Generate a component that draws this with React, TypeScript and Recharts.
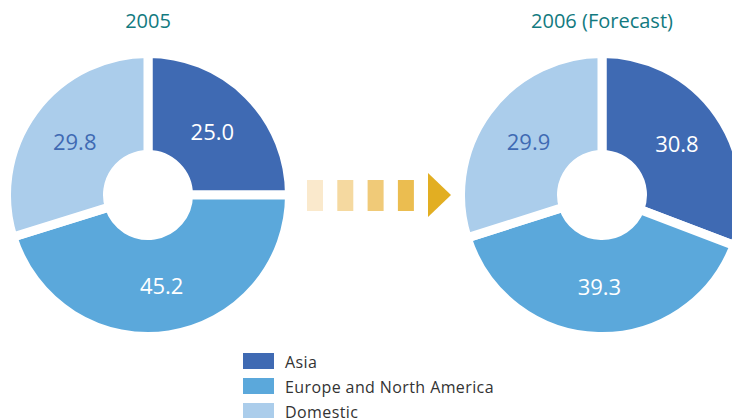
import React from 'react';
import { PieChart, Pie, Cell } from 'recharts';

const categories = ['Asia', 'Europe and North America', 'Domestic'];
const values2005 = [25.0, 45.2, 29.8];
const values2006 = [30.8, 39.3, 29.9];
const titles = ['2005', '2006 (Forecast)'];

const COLORS = ['#3F6AB3', '#5BA8DB', '#ABCDEB'];
const LABEL_COLORS = ['#FFFFFF', '#FFFFFF', '#3F6AB3'];
const ARROW_COLORS = ['#FAE9CC', '#F5D9A0', '#F0CA78', '#EBBD50'];
const FONT = '"Open Sans", sans-serif';

const toRows = (values: number[]) =>
  categories.map((name, i) => ({ name, value: values[i] }));

const renderLabel = ({ cx, cy, midAngle, innerRadius, outerRadius, index, value }: any) => {
  const RADIAN = Math.PI / 180;
  const r = (innerRadius + outerRadius) / 2;
  const x = cx + r * Math.cos(-midAngle * RADIAN);
  const y = cy + r * Math.sin(-midAngle * RADIAN);
  return (
    <text
      x={x}
      y={y}
      fill={LABEL_COLORS[index]}
      textAnchor="middle"
      dominantBaseline="central"
      fontSize={22}
      fontFamily={FONT}
    >
      {value.toFixed(1)}
    </text>
  );
};

export default function App() {
  const pies = [
    { data: toRows(values2005), cx: 148 },
    { data: toRows(values2006), cx: 602 },
  ];

  return (
    <div style={{ position: 'absolute', left: 0, top: 0, width: 732, height: 418, background: '#fff' }}>
      <PieChart width={732} height={418} margin={{ top: 0, right: 0, bottom: 0, left: 0 }}>
        {pies.map((p, k) => (
          <Pie
            key={k}
            data={p.data}
            dataKey="value"
            nameKey="name"
            cx={p.cx}
            cy={195}
            innerRadius={40.5}
            outerRadius={141.5}
            startAngle={90}
            endAngle={-270}
            stroke="#fff"
            strokeWidth={9}
            label={renderLabel}
            labelLine={false}
            isAnimationActive={false}
          >
            {p.data.map((_, i) => (
              <Cell key={i} fill={COLORS[i]} />
            ))}
          </Pie>
        ))}
      </PieChart>

      {/* titles, arrow and legend drawn on top */}
      <svg width={732} height={418} style={{ position: 'absolute', left: 0, top: 0, pointerEvents: 'none' }}>
        {titles.map((t, k) => (
          <text
            key={t}
            x={pies[k].cx}
            y={20}
            textAnchor="middle"
            dominantBaseline="central"
            fill="#127A80"
            fontSize={20}
            fontFamily={FONT}
          >
            {t}
          </text>
        ))}
        {ARROW_COLORS.map((c, i) => (
          <rect key={c} x={307 + i * 30.3} y={180} width={16} height={31} fill={c} />
        ))}
        <polygon points="428,173 451,195 428,217" fill="#E2AE22" />
        {categories.map((name, i) => (
          <g key={name}>
            <rect x={243} y={353 + i * 25} width={31} height={16} fill={COLORS[i]} />
            <text
              x={285}
              y={362 + i * 25}
              dominantBaseline="central"
              fill="#333"
              fontSize={16}
              letterSpacing={0.4}
              fontFamily={FONT}
            >
              {name}
            </text>
          </g>
        ))}
      </svg>
    </div>
  );
}
